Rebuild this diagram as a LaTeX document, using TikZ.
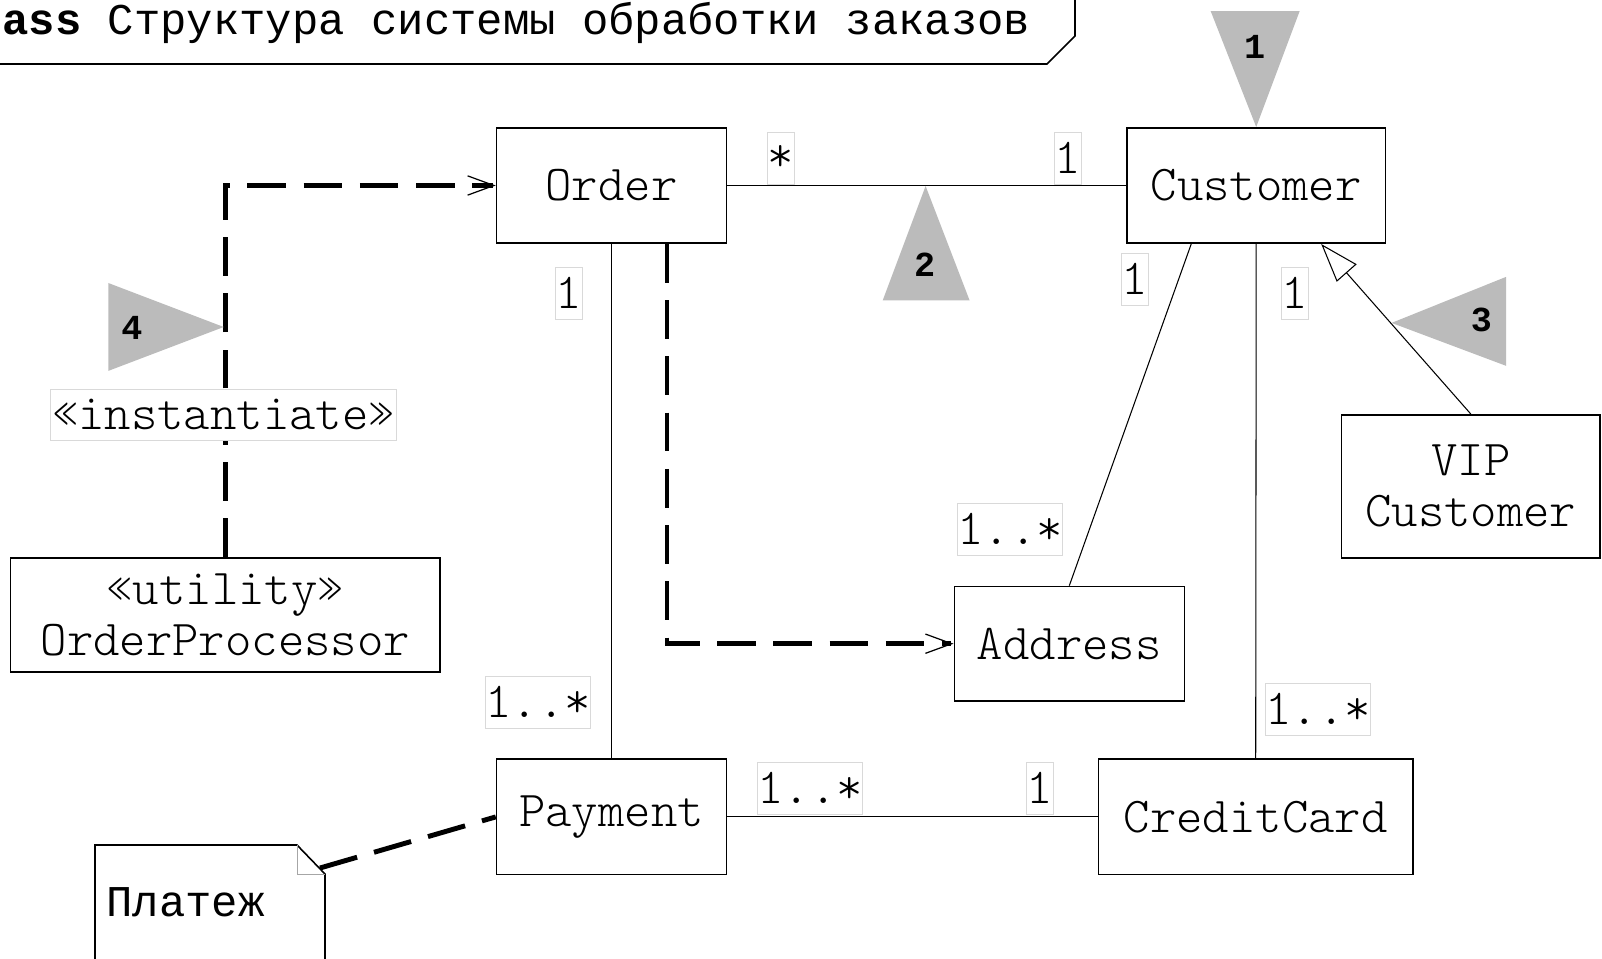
\documentclass[tikz,border=0pt]{standalone}
\usepackage{fontspec}
\newfontfamily\rusmono{Liberation Mono}
\setmonofont{Latin Modern Mono Light}
\usetikzlibrary{arrows.meta,calc}
\definecolor{trigray}{HTML}{BBBBBB}

\begin{document}
\begin{tikzpicture}[x=0.02cm, y=-0.02cm,
    every node/.style={font=\ttfamily\fontsize{28.6}{29}\selectfont},
    cls/.style={draw, line width=0.9pt, align=center, inner sep=0pt},
    mult/.style={draw=black!15, line width=0.5pt, fill=white, inner sep=0pt,
      minimum height=1.04cm, minimum width=0.46cm},
    assoc/.style={line width=0.6pt},
    dep/.style={line width=2.8pt, dash pattern=on 22pt off 10pt,
      -{Straight Barb[length=15pt, width=11pt, line width'=0.7pt]}},
    num/.style={font=\rusmono\fontsize{20}{20}\selectfont\bfseries, inner sep=0pt}]
  \useasboundingbox (0,0) rectangle (1602,959);

  \draw[line width=0.9pt] (-5,64) -- (1047,64) -- (1075,36) -- (1075,-5);
  \node[anchor=west, inner sep=0pt, font=\rusmono\fontsize{25}{29}\selectfont] (title) at (2,23)
    {{\bfseries ass} Структура системы обработки заказов};

  \node[cls, minimum width=4.6cm, minimum height=2.31cm] (order) at (611.5,185.5) {Order};
  \node[cls, minimum width=5.17cm, minimum height=2.31cm] (customer) at (1256.2,185.5) {Customer};
  \node[cls, minimum width=5.17cm, minimum height=2.86cm] (vip) at (1470.8,486.3) {VIP\\Customer};
  \node[cls, minimum width=4.6cm, minimum height=2.29cm] (address) at (1069.3,643.7) {Address};
  \node[cls, minimum width=8.6cm, minimum height=2.29cm] (proc) at (225.3,615) {«utility»\\OrderProcessor};
  \node[cls, minimum width=4.6cm, minimum height=2.31cm] (payment) at (611.5,816.9) {Payment};
  \node[cls, minimum width=6.29cm, minimum height=2.31cm] (card) at (1255.7,816.9) {CreditCard};

  \draw[line width=0.9pt] (95,965) -- (95,845) -- (297,845) -- (325,874) -- (325,965);
  \draw[black!35, line width=0.5pt] (297,845) -- (297,874) -- (325,874);
  \node[anchor=west, inner sep=0pt, font=\rusmono\fontsize{25}{29}\selectfont] (note) at (106,902) {Платеж};
  \coordinate (notec) at (320,868);

  \draw[assoc] (order.east) -- (customer.west);
  \draw[assoc] (order.south) -- (payment.north);
  \draw[assoc] (payment.east) -- (card.west);
  \draw[assoc] (customer.south) -- (card.north);
  \draw[assoc] ($(customer.south)+(-65,0)$) -- (address.north);
  \draw[assoc, -{Triangle[open, length=22pt, width=15pt]}] (vip.north) -- ($(customer.south)+(65,0)$);

  \draw[dep] ($(order.south)+(55.5,0)$) |- (address.west);
  \draw[dep] (proc.north) |- (order.west);
  \draw[dep, -] (notec) -- (payment.west);

  \node[mult, minimum width=6.93cm, minimum height=1.02cm] (inst) at (223.5,414.8) {«instantiate»};
  \foreach \n/\x/\y/\t in {m1/781/158/*, m2/1068/158/1, m3/569/293/1, m4/538/702/1..*,
      m5/1135/279/1, m6/1010/529/1..*, m7/1295/293/1, m8/1318/709/1..*,
      m9/810/788/1..*, m10/1040/788/1}
    \node[mult] (\n) at (\x,\y) {\t};

  \fill[trigray] (1210.7,11.2) -- (1299.6,11.2) -- (customer.north) -- cycle;
  \fill[trigray] (925.6,186) -- (882.7,300.4) -- (969.6,300.4) -- cycle;
  \fill[trigray] (1391.6,322.9) -- (1506,276.9) -- (1506,365.8) -- cycle;
  \fill[trigray] (223.7,327) -- (108.3,283) -- (108.3,370.9) -- cycle;
  \node[num] (t1) at (1254.6,47) {1};
  \node[num] (t2) at (924.6,264.6) {2};
  \node[num] (t3) at (1481.5,319.8) {3};
  \node[num] (t4) at (131.8,328) {4};
\end{tikzpicture}
\end{document}
